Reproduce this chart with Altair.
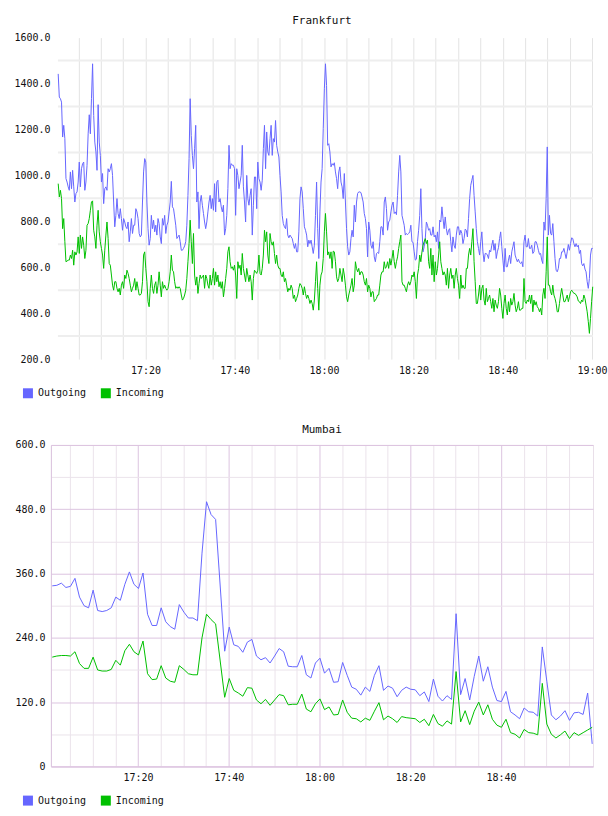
import altair as alt
import pandas as pd

# ---------------------------------------------------------------------------
# Traffic samples (Mbit/s): Frankfurt every ~15 s, Mumbai every minute
# ---------------------------------------------------------------------------
DAY = "2024-01-01"
SERIES = ["Outgoing", "Incoming"]
COLORS = ["#6666ff", "#00c000"]

FRA_START, FRA_END = "17:00:27", "19:00:10"

FRA_OUT = [
    1442, 1341, 1334, 1319, 1167, 1218, 1160, 986, 971, 950,
    935, 1015, 942, 1022, 950, 884, 921, 928, 971, 1058,
    950, 1029, 1051, 1058, 935, 971, 1044, 1181, 1264, 1181,
    1334, 1486, 1261, 1145, 1102, 1022, 1308, 1145, 1087, 971,
    1008, 877, 942, 950, 935, 1029, 1015, 1029, 1051, 1000,
    884, 776, 826, 899, 834, 812, 855, 812, 761, 812,
    797, 776, 768, 797, 711, 754, 812, 747, 783, 783,
    855, 841, 812, 747, 732, 740, 884, 1015, 1073, 1058,
    884, 768, 696, 725, 826, 768, 805, 754, 783, 740,
    812, 790, 732, 703, 812, 783, 826, 747, 783, 797,
    841, 884, 974, 863, 855, 819, 783, 725, 732, 740,
    711, 674, 674, 682, 693, 711, 783, 913, 1073, 1334,
    1174, 1087, 1029, 1116, 1218, 884, 928, 768, 884, 913,
    870, 834, 797, 768, 797, 841, 884, 913, 855, 899,
    848, 964, 841, 971, 979, 884, 899, 863, 841, 870,
    740, 768, 826, 942, 1131, 1029, 1051, 1044, 1044, 1029,
    826, 1029, 1000, 942, 971, 1000, 1131, 950, 884, 797,
    1000, 899, 870, 913, 942, 740, 870, 993, 993, 855,
    1058, 986, 971, 935, 979, 1116, 1218, 1029, 1189, 1102,
    1087, 1160, 1218, 1087, 1160, 1145, 1239, 1131, 1102, 1080,
    1000, 928, 826, 790, 776, 768, 812, 740, 728, 740,
    732, 725, 703, 682, 703, 667, 667, 754, 899, 950,
    928, 855, 776, 761, 740, 689, 718, 703, 718, 689,
    660, 696, 826, 971, 768, 638, 841, 971, 1029, 1203,
    1377, 1486,
    1392, 1131, 1138, 1102, 1037, 1051, 1044, 1055, 1015, 986,
    942, 1015, 1037, 971, 950, 899, 1008, 884, 768, 689,
    653, 667, 725, 761, 732, 870, 797, 884, 921, 928,
    928, 925, 906, 884, 834, 812, 768, 645, 797, 761,
    696, 682, 711, 645, 624, 660, 664, 660, 711, 776,
    776, 740, 884, 906, 855, 761, 797, 805, 841, 870,
    884, 834, 841, 829, 913, 1015, 1087, 1015, 826, 805,
    783, 740, 747, 742, 747, 754, 783, 711, 708, 667,
    631, 635, 711, 761, 826, 942, 768, 667, 689, 725,
    797, 783, 761, 768, 740, 740, 776, 732, 740, 711,
    754, 682, 805, 797, 863, 812, 768, 819, 768, 740,
    761, 768, 711, 667, 732, 696, 682, 740, 776, 776,
    740, 761, 747, 703, 725, 766, 761, 732, 812, 899,
    957, 979, 1000, 913, 841, 768, 711, 682, 653, 711,
    754, 667, 624, 660, 660, 653, 638, 674, 667, 696,
    718, 674, 703, 638, 667, 685, 725, 754, 689, 631,
    580, 682, 602, 602, 631, 653, 616, 667, 689, 711,
    653, 638, 624, 635, 621, 616, 624, 602, 711, 740,
    689, 689, 725, 682, 682, 696, 660, 667, 711, 711,
    696, 674, 656, 660, 631, 616, 797, 761, 899, 1124,
    740, 826, 747, 740, 790, 711, 638, 587, 580, 595,
    638, 638, 667, 667, 682, 660, 638, 667, 699, 674,
    703, 728, 725, 703, 689, 703, 689, 696, 660, 674,
    616, 606, 616, 592, 580, 537, 508, 551, 653, 682, 682,
]

FRA_IN = [
    964, 906, 935, 899, 768, 812, 711, 624, 627, 631,
    631, 653, 638, 674, 609, 667, 653, 667, 732, 660,
    740, 682, 732, 696, 638, 674, 783, 790, 812, 848,
    884, 889, 761, 732, 682, 783, 848, 754, 711, 682,
    653, 595, 674, 740, 797, 725, 616, 609, 566, 522,
    500, 537, 537, 508, 493, 508, 479, 522, 537, 508,
    566, 551, 587, 573, 551, 522, 493, 508, 522, 551,
    500, 537, 508, 479, 479, 486, 537, 653, 667, 595,
    537, 450, 428, 508, 566, 508, 486, 522, 537, 486,
    522, 580, 522, 471, 537, 508, 522, 508, 500, 508,
    537, 580, 653, 587, 580, 537, 508, 515, 508, 515,
    508, 479, 457, 464, 479, 500, 551, 624, 703, 805,
    711, 616, 747, 566, 522, 558, 486, 529, 566, 551,
    558, 566, 508, 566, 551, 522, 508, 566, 522, 551,
    595, 522, 580, 537, 566, 515, 537, 508, 537, 471,
    508, 551, 595, 667, 689, 624, 595, 602, 587, 609,
    566, 464, 624, 595, 609, 566, 660, 595, 566, 537,
    595, 566, 537, 566, 537, 457, 551, 587, 580, 573,
    587, 653, 573, 566, 595, 653, 761, 711, 754, 653,
    616, 747, 711, 696, 711, 660, 616, 653, 609, 595,
    595, 566, 558, 580, 537, 551, 522, 493, 508, 500,
    522, 508, 464, 479, 450, 464, 479, 508, 529, 522,
    508, 479, 515, 486, 464, 479, 464, 442, 457, 442,
    413, 457, 537, 624, 508, 413, 522, 566, 580, 638,
    754, 834,
    754, 653, 667, 638, 667, 595, 670, 667, 624, 558,
    537, 551, 595, 566, 537, 595, 566, 522, 471, 450,
    479, 500, 522, 551, 493, 522, 624, 595, 580, 595,
    566, 580, 580, 566, 537, 522, 551, 493, 522, 508,
    471, 493, 493, 450, 457, 464, 479, 479, 522, 566,
    580, 580, 624, 595, 602, 624, 595, 638, 609, 638,
    674, 624, 595, 624, 645, 682, 711, 740, 537, 522,
    522, 508, 493, 522, 537, 522, 537, 566, 558, 580,
    537, 464, 566, 595, 653, 624, 667, 696, 711, 725,
    703, 718, 624, 595, 682, 566, 653, 537, 624, 566,
    595, 653, 711, 624, 595, 566, 580, 566, 522, 595,
    508, 566, 595, 551, 566, 508, 566, 595, 551, 522,
    464, 566, 508, 522, 508, 508, 595, 595, 653, 682,
    653, 711, 768, 624, 537, 442, 442, 479, 522, 457,
    508, 522, 457, 435, 508, 450, 464, 479, 450, 421,
    464, 406, 457, 435, 421, 450, 508, 479, 421, 377,
    442, 479, 421, 392, 450, 406, 464, 435, 450, 486,
    435, 406, 421, 450, 413, 413, 421, 421, 551, 450,
    442, 457, 450, 479, 442, 479, 406, 457, 435, 450,
    428, 421, 406, 421, 392, 479, 508, 464, 580, 732,
    522, 522, 493, 479, 522, 479, 464, 442, 406, 406,
    442, 479, 508, 479, 450, 450, 464, 479, 450, 471,
    493, 500, 493, 486, 486, 479, 471, 453, 450, 442,
    457, 450, 479, 464, 435, 406, 363, 312, 377, 450, 515,
]

# Mumbai: one sample per minute past 17:00 (the 17:38 sample is missing)
MUM_MINUTES = [m for m in range(1, 121) if m != 38]

MUM_OUT = [
    337, 338, 342, 334, 336, 351, 316, 300, 296, 329,
    291, 289, 291, 296, 316, 310, 340, 363, 340, 332,
    361, 284, 263, 263, 296, 270, 261, 256, 302, 288,
    277, 277, 272, 398, 494, 470, 461,
    215, 260, 227, 224, 213, 232, 237, 206, 199, 203,
    193, 206, 220, 214, 187, 186, 186, 207, 171, 165,
    193, 202,
    174, 183, 157, 158, 194, 170, 148, 144, 133, 148,
    140, 170, 188, 142, 150, 146, 130, 142, 148, 144,
    143, 132, 139, 121, 163, 131, 122, 132, 125, 285,
    134, 164, 124, 168, 206, 159, 186, 148, 123, 121,
    140, 102, 96, 89, 109, 102, 101, 94, 223, 159,
    96, 87, 94, 104, 86, 100, 101, 97, 137, 42,
]

MUM_IN = [
    204, 206, 207, 207, 206, 214, 192, 183, 183, 204,
    180, 178, 178, 181, 198, 189, 216, 228, 214, 208,
    234, 173, 162, 163, 188, 165, 159, 157, 188, 181,
    173, 171, 171, 240, 284, 274, 266,
    129, 164, 142, 137, 131, 147, 146, 124, 117, 125,
    114, 124, 134, 132, 115, 116, 116, 135, 107, 102,
    117, 126,
    106, 111, 96, 97, 124, 101, 90, 89, 83, 90,
    86, 103, 119, 87, 94, 89, 82, 93, 91, 90,
    89, 82, 88, 76, 97, 80, 75, 85, 79, 177,
    83, 104, 78, 103, 120, 96, 115, 88, 77, 73,
    88, 63, 60, 53, 69, 63, 62, 59, 155, 79,
    60, 53, 59, 66, 52, 63, 58, 63, 68, 73,
]

FRA_Y_LABELS = [200, 400, 600, 800, 1000, 1200, 1400, 1600]
FRA_Y_GRID = [300, 500, 700, 900, 1100, 1300, 1500]
MUM_Y_TICKS = [0, 60, 120, 180, 240, 300, 360, 420, 480, 540, 600]

# ---------------------------------------------------------------------------
FONT = "DejaVu Sans Mono"
INK = "#111111"
PLOT_W, PLOT_H = 543, 322


def at(h, m, s=0):
    return alt.DateTime(year=2024, month=1, date=1, hours=h, minutes=m, seconds=s)


def five_minute_marks(count):
    marks = []
    for k in range(1, count + 1):
        total = 5 * k
        marks.append(at(17 + total // 60, total % 60))
    return marks


def long_frame(times, out_vals, in_vals):
    return pd.DataFrame({
        "time": list(times) * 2,
        "value": list(out_vals) + list(in_vals),
        "series": ["Outgoing"] * len(out_vals) + ["Incoming"] * len(in_vals),
    })


# swatch legend drawn from the line colour scale: a thick outline on a small
# square reads as a solid 10x10 block
swatch_legend = alt.Legend(
    title=None, orient="none", legendX=-28, legendY=351,
    direction="horizontal", symbolType="square", symbolSize=25,
    symbolStrokeWidth=5, symbolOpacity=1,
    labelFont=FONT, labelFontSize=10, labelColor=INK, labelOffset=5,
    columnPadding=6, padding=0,
)
series_color = alt.Color(
    "series:N", scale=alt.Scale(domain=SERIES, range=COLORS), legend=swatch_legend
)

label_expr_x = "minutes(datum.value) % 20 === 0 ? timeFormat(datum.value, '%H:%M') : ''"

# ---------------------------- Frankfurt ------------------------------------
fra_times = pd.date_range(f"{DAY} {FRA_START}", f"{DAY} {FRA_END}", periods=len(FRA_OUT))
fra = long_frame(fra_times, FRA_OUT, FRA_IN)

fra_t0 = pd.Timestamp(f"{DAY} 17:00:23")
fra_t1 = pd.Timestamp(f"{DAY} 19:00:14")
fra_x_scale = alt.Scale(domain=[at(17, 0, 23), at(19, 0, 14)], range=[7, PLOT_W])
fra_y_scale = alt.Scale(domain=[200, 1600], nice=False, zero=False)

fra_x_axis = alt.Axis(
    values=five_minute_marks(24), labelExpr=label_expr_x, grid=True,
    gridColor="#e3e3e3", gridWidth=1, ticks=False, domain=False,
    labelPadding=6, labelOverlap=False, labelFlush=False, title=None,
)
fra_y_axis = alt.Axis(
    values=FRA_Y_LABELS, format=".1f", grid=False, ticks=False, domain=False,
    labelPadding=1, labelFlush=False, labelOverlap=False, title=None,
)

fra_grid = pd.DataFrame({"v": FRA_Y_GRID, "t0": fra_t0, "t1": fra_t1})
fra_hgrid = alt.Chart(fra_grid).mark_rule(color="#eeeeee", strokeWidth=2).encode(
    x=alt.X("t0:T", scale=fra_x_scale, axis=fra_x_axis),
    x2="t1:T",
    y=alt.Y("v:Q", scale=fra_y_scale, axis=fra_y_axis),
)
fra_lines = alt.Chart(fra).mark_line(strokeWidth=1).encode(
    x=alt.X("time:T", scale=fra_x_scale, axis=fra_x_axis),
    y=alt.Y("value:Q", scale=fra_y_scale, axis=fra_y_axis),
    color=series_color,
)
frankfurt = alt.layer(fra_hgrid, fra_lines).properties(
    width=PLOT_W, height=PLOT_H,
    title=alt.TitleParams("Frankfurt", offset=1, baseline="middle", frame="group"),
    view=alt.ViewBackground(stroke="transparent"),
)

# ------------------------------ Mumbai -------------------------------------
mum_times = [pd.Timestamp(f"{DAY} 17:00:05") + pd.Timedelta(minutes=m) for m in MUM_MINUTES]
mum = long_frame(mum_times, MUM_OUT, MUM_IN)

MAJOR = "#dcc4e0"
MINOR = "#ebe3eb"
mum_x_scale = alt.Scale(domain=[at(17, 0, 47), at(19, 0, 16)])
mum_y_scale = alt.Scale(domain=[0, 600], nice=False)

mum_x_axis = alt.Axis(
    values=five_minute_marks(23), labelExpr=label_expr_x, grid=True,
    gridColor={"condition": {"test": "minutes(datum.value) % 20 === 0", "value": MAJOR}, "value": MINOR},
    gridWidth=1, ticks=False, domain=True, domainColor=MAJOR, domainWidth=1,
    labelPadding=6, labelOverlap=False, labelFlush=False, title=None,
)
mum_y_axis = alt.Axis(
    values=MUM_Y_TICKS,
    labelExpr="datum.value % 120 === 0 ? (datum.value === 0 ? '0' : format(datum.value, '.1f')) : ''",
    grid=True,
    gridColor={"condition": {"test": "datum.value % 120 === 0", "value": MAJOR}, "value": MINOR},
    gridWidth=1, ticks=False, domain=True, domainColor=MAJOR, domainWidth=1,
    labelPadding=6, labelFlush=False, labelOverlap=False, title=None,
)
mum_lines = alt.Chart(mum).mark_line(strokeWidth=1).encode(
    x=alt.X("time:T", scale=mum_x_scale, axis=mum_x_axis),
    y=alt.Y("value:Q", scale=mum_y_scale, axis=mum_y_axis),
    color=series_color,
)
mumbai = alt.layer(mum_lines).properties(
    width=PLOT_W, height=PLOT_H,
    title=alt.TitleParams("Mumbai", offset=-1, baseline="middle", frame="group"),
    view=alt.ViewBackground(stroke="#e9dfe9", strokeWidth=1),
)

chart = (
    alt.vconcat(frankfurt, mumbai, spacing=86, bounds="flush")
    .resolve_scale(x="independent", y="independent", color="independent")
    .resolve_legend(color="independent")
    .properties(padding={"left": 13, "top": 13, "right": 0, "bottom": 0})
    .configure_axis(labelFont=FONT, labelFontSize=10, labelColor=INK)
    .configure_title(font=FONT, fontSize=11, fontWeight="normal", color=INK, anchor="middle")
)

chart.save("out.html", embed_options={"renderer": "svg", "actions": False})
